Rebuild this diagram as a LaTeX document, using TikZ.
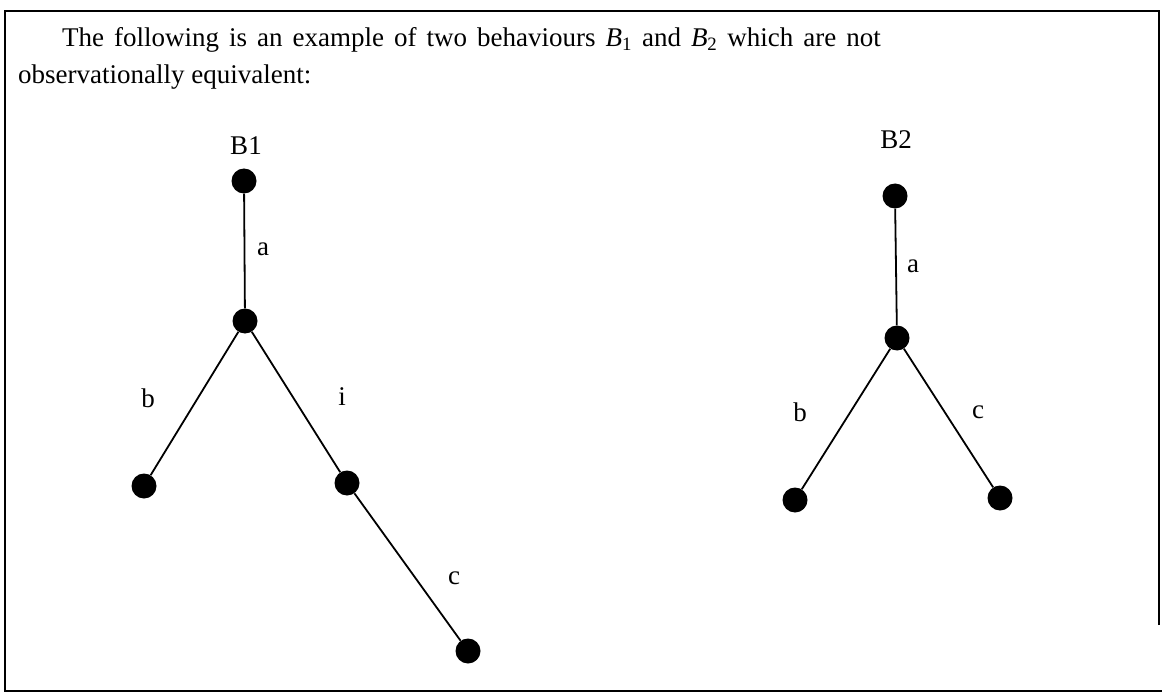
\documentclass[tikz,border=0pt]{standalone}
\usepackage{fontspec}
\setmainfont{Liberation Serif}
\begin{document}
\begin{tikzpicture}[x=1pt, y=-1pt, font=\fontsize{27}{32}\selectfont,
    state/.style={circle, fill=black, inner sep=0pt, minimum size=25pt},
    edge/.style={line width=1.8pt},
    lbl/.style={inner sep=0pt}]
\useasboundingbox (0,0) rectangle (1162,695);
% frame round the example
\draw[line width=2.2pt] (1159,625) |- (5,11) |- (1162,691);
\node[lbl, anchor=base west] (line1) at (62,47)
  {\spaceskip=10pt plus 1pt The following is an example of two behaviours \textit{B}\textsubscript{1} and \textit{B}\textsubscript{2} which are not};
\node[lbl, anchor=base west] (line2) at (18,84) {observationally equivalent:};

% first behaviour
\node[lbl] (name1) at (246,146) {B1};
\node[state] (top1) at (244,181) {};
\node[state] (mid1) at (245,321) {};
\node[state] (left1) at (144,486) {};
\node[state] (right1) at (347,483) {};
\node[state] (low1) at (468,651) {};
\draw[edge] (top1) -- (mid1);
\draw[edge] (mid1) -- (left1);
\draw[edge] (mid1) -- (right1);
\draw[edge] (right1) -- (low1);
\node[lbl] (a1) at (263,249) {a};
\node[lbl] (b1) at (148,398) {b};
\node[lbl] (i1) at (342,397) {i};
\node[lbl] (c1) at (454,578) {c};

% second behaviour
\node[lbl] (name2) at (896,140) {B2};
\node[state] (top2) at (895,196) {};
\node[state] (mid2) at (897,338) {};
\node[state] (left2) at (795,500) {};
\node[state] (right2) at (1000,498) {};
\draw[edge] (top2) -- (mid2);
\draw[edge] (mid2) -- (left2);
\draw[edge] (mid2) -- (right2);
\node[lbl] (a2) at (913,266) {a};
\node[lbl] (b2) at (800,412) {b};
\node[lbl] (c2) at (978,412) {c};
\end{tikzpicture}
\end{document}
